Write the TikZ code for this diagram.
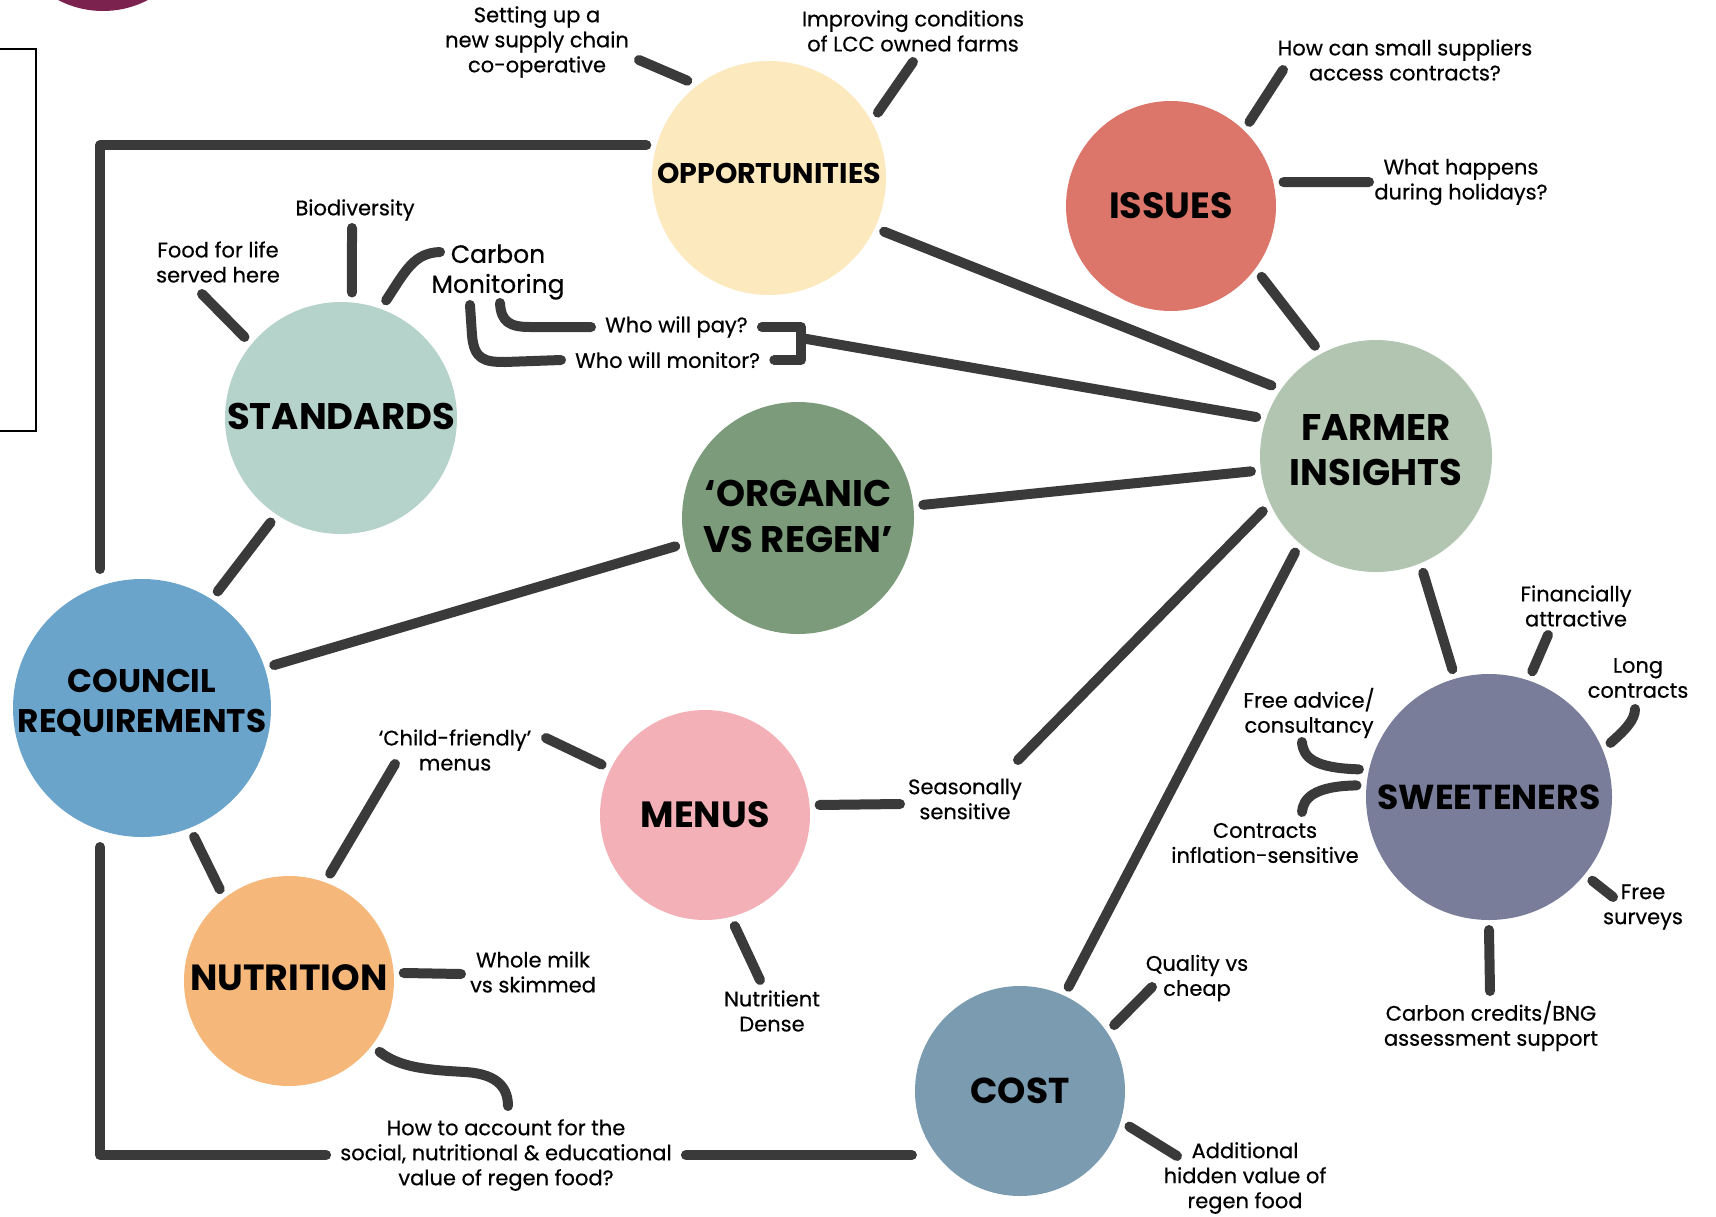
\documentclass[tikz,border=0pt]{standalone}
\usepackage{fontspec}
\setmainfont{Poppins}
\newfontfamily\lblfont{Poppins}[FakeBold=0.5]
\usepackage{tikz}
\usetikzlibrary{calc,positioning}
\definecolor{cOpp}{RGB}{252,233,190}
\definecolor{cIss}{RGB}{220,118,106}
\definecolor{cStd}{RGB}{182,211,203}
\definecolor{cOrg}{RGB}{123,155,123}
\definecolor{cFrm}{RGB}{178,197,177}
\definecolor{cCnl}{RGB}{107,164,203}
\definecolor{cMnu}{RGB}{243,176,183}
\definecolor{cSwt}{RGB}{121,125,154}
\definecolor{cNut}{RGB}{245,183,122}
\definecolor{cCst}{RGB}{122,155,176}
\definecolor{cLogo}{RGB}{124,34,78}
\definecolor{cLine}{RGB}{58,58,58}

\begin{document}
\begin{tikzpicture}[x=1pt, y=-1pt,
  hub/.style={circle, inner sep=0pt, outer sep=10pt},
  hubtxt/.style={inner sep=0pt, align=center},
  lbl/.style={inner xsep=14pt, inner ysep=2pt, align=center, font=\lblfont\fontsize{21}{25}\selectfont},
  link/.style={draw=cLine, line width=10pt, line cap=round, line join=round}]
\useasboundingbox (0,0) rectangle (1716,1216);
\fill[cLogo] (103,-86) circle (97);
\draw[line width=2pt] (-10,49) -| (36,431) -- (-10,431);

\foreach \nm/\x/\y/\r/\col/\fs/\bs/\dy/\txt in {
  opp/769/178/117/cOpp/28.5/34/-5/OPPORTUNITIES,
  iss/1171/206/105/cIss/36.5/44/0/ISSUES,
  std/341/418/116/cStd/37/44/-2/STANDARDS,
  org/798/518/116/cOrg/37/46/-2/{‘ORGANIC\\VS REGEN’},
  frm/1376/456/116/cFrm/37/45/-6/{FARMER\\INSIGHTS},
  cnl/142/708/129/cCnl/32.7/40.5/-5/{COUNCIL\\REQUIREMENTS},
  mnu/705/815/105/cMnu/36.5/44/0/MENUS,
  swt/1489/797/123/cSwt/34.6/42/0/SWEETENERS,
  nut/289/981/105/cNut/36.4/44/-3/NUTRITION,
  cst/1020/1091/105/cCst/36/44/0/COST}
{
  \node[hub, minimum size=2*\r, fill=\col] (\nm) at (\x,\y) {};
  \node[hubtxt, font=\fontsize{\fs}{\bs}\selectfont\bfseries] (\nm-t) at (\x,\y+\dy) {\txt};
}

\foreach \nm/\x/\y/\txt in {
  setup/537/42/{Setting up a\\new supply chain\\co-operative},
  improve/913/31/{Improving conditions\\of LCC owned farms},
  small/1405/60/{How can small suppliers\\access contracts?},
  holiday/1461/182/{What happens\\during holidays?},
  bio/355/210/Biodiversity,
  food/218/262/{Food for life\\served here},
  season/965/799/{Seasonally\\sensitive},
  child/455/750/{‘Child-friendly’\\menus},
  milk/533/972/{Whole milk\\vs skimmed},
  dense/772/1011/{Nutritient\\Dense},
  quality/1197/978/{Quality vs\\cheap},
  hidden/1245/1178/{Additional\\hidden value of\\regen food},
  money/1576/606/{Financially\\attractive},
  long/1638/678/{Long\\contracts},
  advice/1309/713/{Free advice/\\consultancy},
  inflate/1265/843/{Contracts\\inflation-sensitive},
  survey/1643/907/{Free\\surveys},
  credits/1491/1026/{Carbon credits/BNG\\assessment support}}
  \node[lbl] (\nm) at (\x,\y) {\txt};
\node[lbl, font=\lblfont\fontsize{25}{30}\selectfont] (carb) at (498,272) {Carbon\\Monitoring};
\node[lbl, anchor=west] (pay) at (591,327) {Who will pay?};
\node[lbl, anchor=west] (mon) at (561,360) {Who will monitor?};
\node[lbl] (acc) at (506,1155) {How to account for the\\social, nutritional \& educational\\value of regen food?};

\foreach \nm/\x/\y in {tSetup/639/60, tImprove/913/62, tSmall/1283/70, tHoliday/1369/182,
  tFood/202/294, tBio/352/228, tCarbon/440/252, tSeason/1018/760, tSeason2/900/804,
  tChild/546/738, tChild2/395/764, tDense/760/980, tMilk/461/974, tAcc/508/1106,
  tMoney/1548/635, tLong/1635/709, tSurvey/1613/897, tCredits/1490/991,
  tAdvice/1302/742, tInflate/1302/812, tQuality/1152/987, tHidden/1177/1156,
  tPay/500/303, tMon/470/305, tBrk/801/338, fTL/100/146}
  \coordinate (\nm) at (\x,\y);

\foreach \a/\b in {opp.130/tSetup, opp.31/tImprove, opp.-25/frm.146, iss.47/tSmall,
  iss.12/tHoliday, iss.-38/frm.119, std.140/tFood, std.85/tBio, std.-124/cnl.57,
  org.6/frm.187, org.193/cnl.18, frm.206/tSeason, frm.230/cst.65, frm.-68/swt.106,
  cnl.-68/nut.127, mnu.5/tSeason2, mnu.154/tChild, mnu.-75/tDense, nut.69/tChild2,
  nut.4/tMilk, swt.71/tMoney, swt.-39/tSurvey, swt.-90/tCredits, cst.35/tQuality,
  cst.-18/tHidden, tBrk/frm.162}
  \draw[link] (\a) -- (\b);

\draw[link] (std.69) .. controls (406,270) and (414,253) .. (tCarbon);
\draw[link] (tPay) .. controls (501,322) and (510,327) .. (530,327) -- (pay.west);
\draw[link] (tMon) -- (472,335) .. controls (474,360) and (485,362) .. (505,362) -- (mon.west);
\draw[link] (pay.east) -| (tBrk) |- (mon.east);
\draw[link] (nut.-38) .. controls (400,1068) and (430,1070) .. (465,1072)
  .. controls (500,1074) and (508,1090) .. (tAcc);
\draw[link] (swt.24) .. controls (1625,730) and (1635,720) .. (tLong);
\draw[link] (swt.168) .. controls (1315,768) and (1303,758) .. (tAdvice);
\draw[link] (swt.175) .. controls (1315,786) and (1303,798) .. (tInflate);
\draw[link] (opp.165) -| (cnl.north -| fTL);
\draw[link] (cnl.south -| fTL) |- (acc.west);
\draw[link] (acc.east) -- (acc.east -| cst.200);
\end{tikzpicture}
\end{document}
